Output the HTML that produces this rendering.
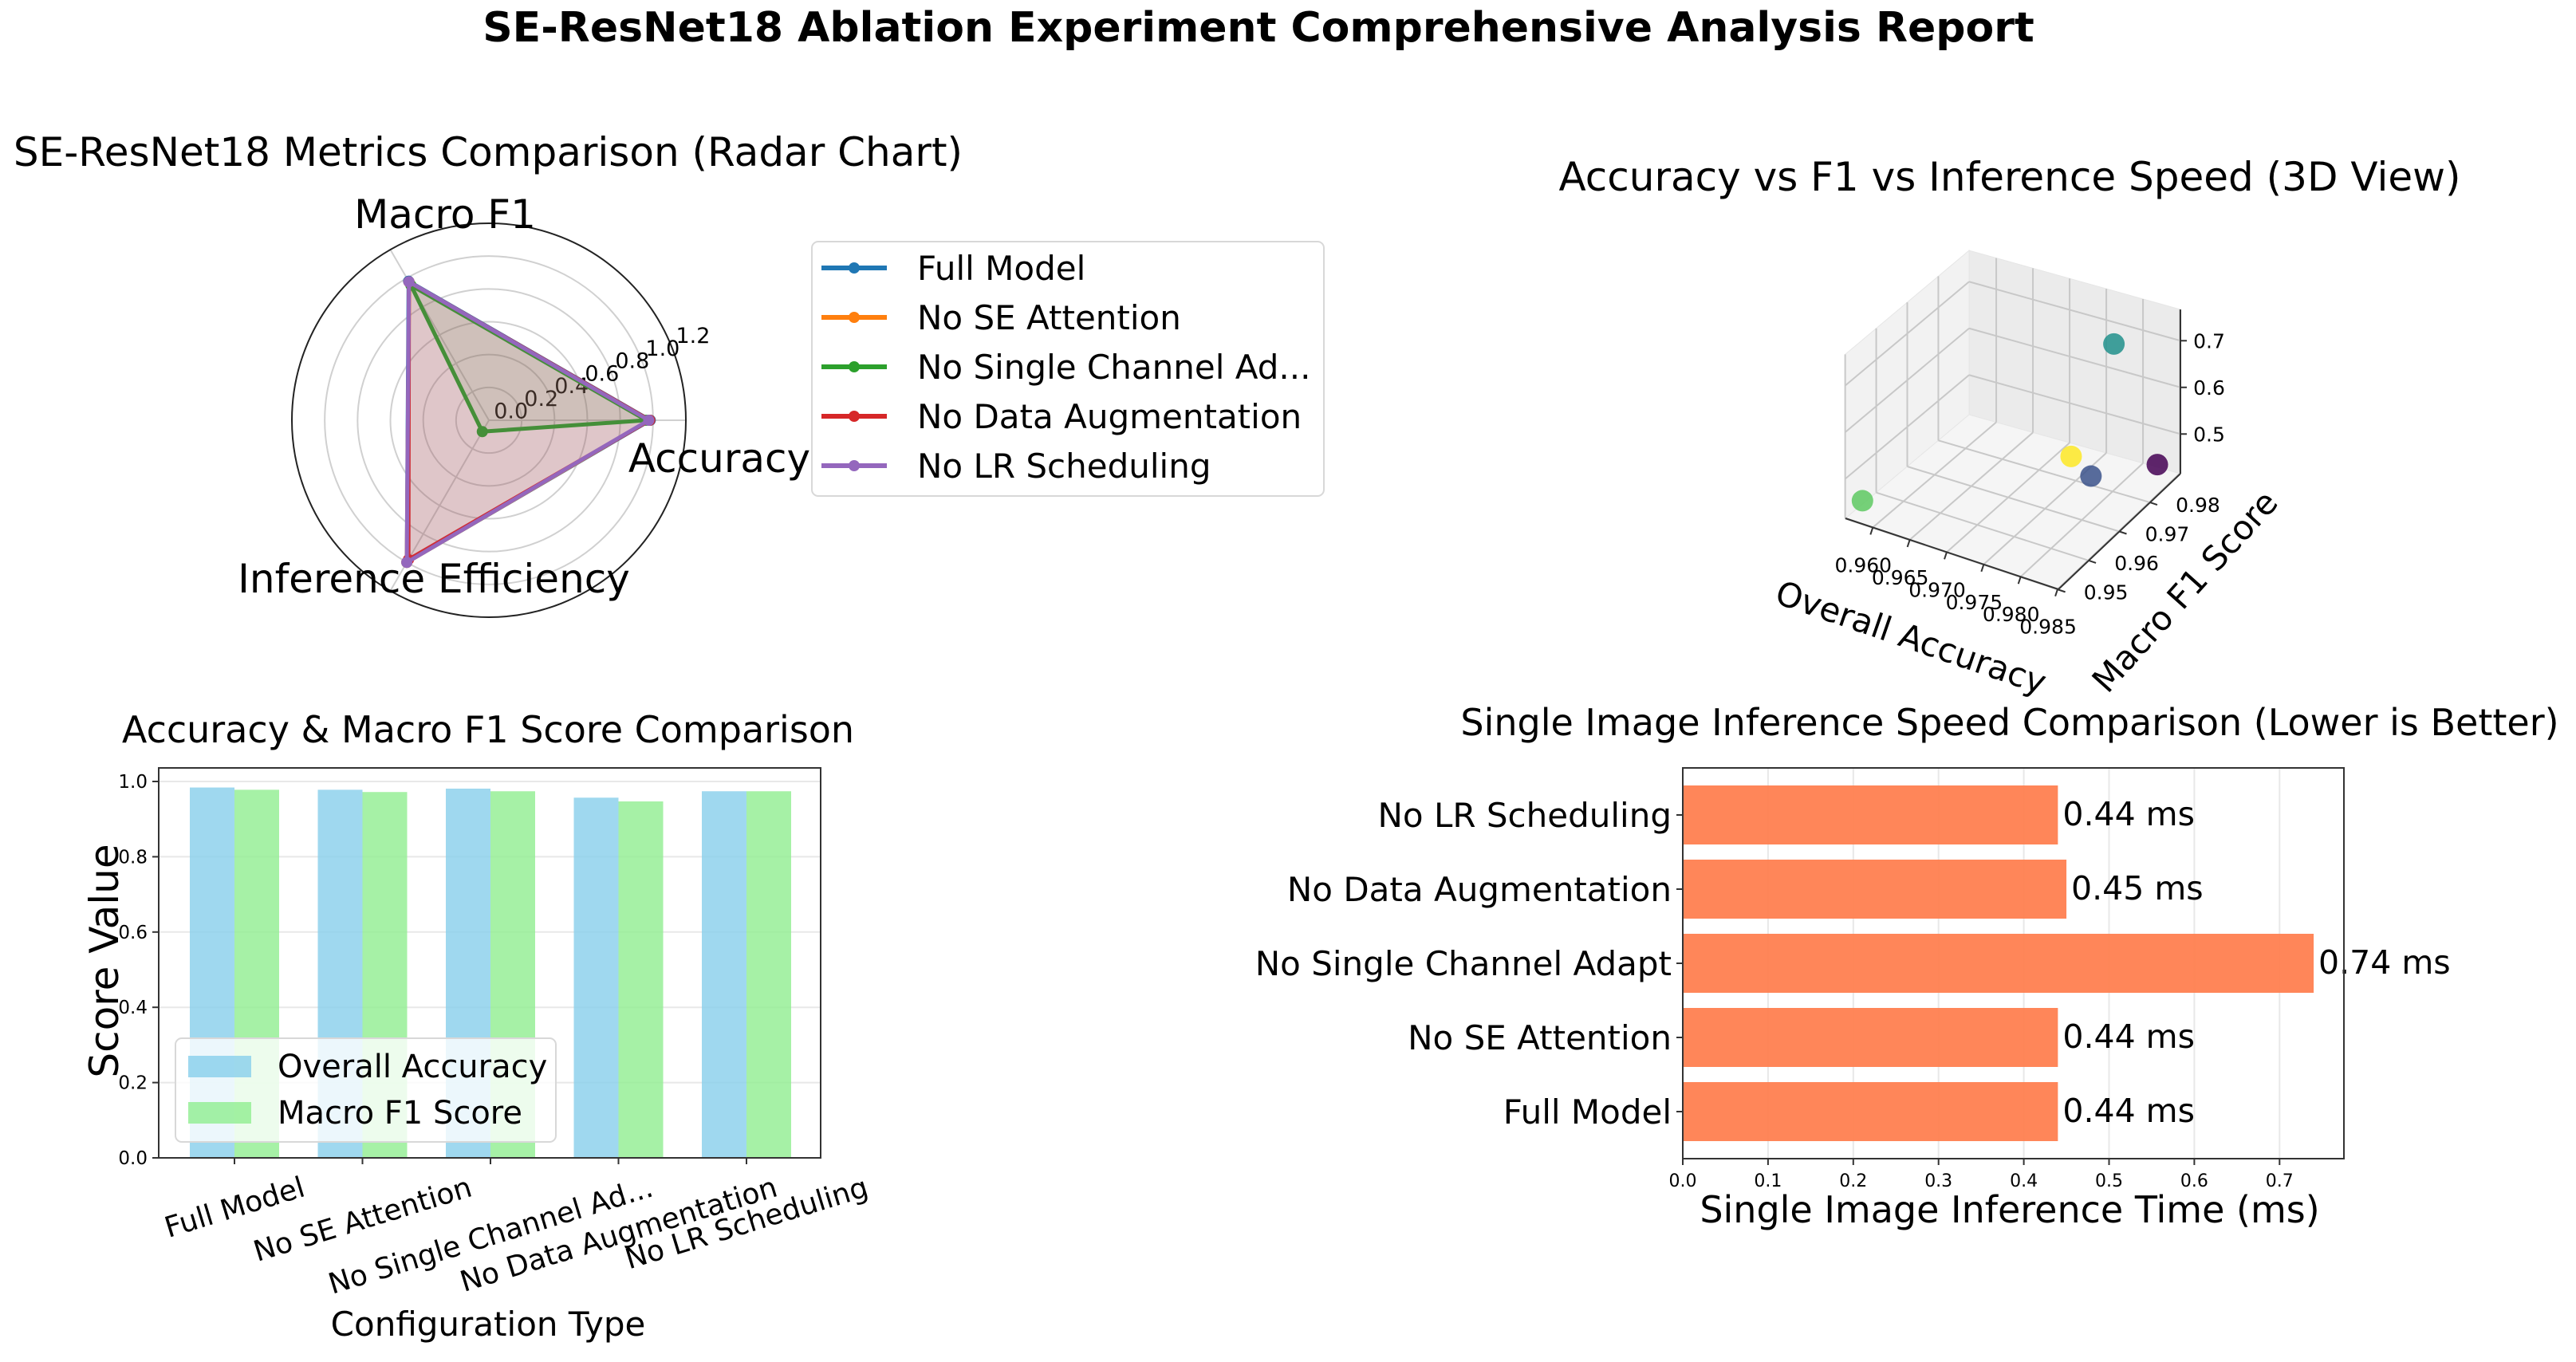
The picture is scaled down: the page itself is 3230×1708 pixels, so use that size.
<!DOCTYPE html>
<html><head><meta charset="utf-8">
<style>
html,body{margin:0;padding:0;background:#fff;}
svg{display:block;font-family:"DejaVu Sans","Liberation Sans",sans-serif;}
</style></head>
<body>
<svg id="fig" width="3230" height="1708" viewBox="0 0 3230 1708" xmlns="http://www.w3.org/2000/svg">
<rect width="3230" height="1708" fill="#fff"/>
<text x="1578" y="52" text-anchor="middle" font-size="52" font-weight="bold">SE-ResNet18 Ablation Experiment Comprehensive Analysis Report</text>
<text x="612" y="208" text-anchor="middle" font-size="50">SE-ResNet18 Metrics Comparison (Radar Chart)</text>
<text x="2520" y="239" text-anchor="middle" font-size="50">Accuracy vs F1 vs Inference Speed (3D View)</text>
<text x="612" y="931" text-anchor="middle" font-size="46">Accuracy &amp; Macro F1 Score Comparison</text>
<text x="2520" y="922" text-anchor="middle" font-size="46">Single Image Inference Speed Comparison (Lower is Better)</text>
<g id="radar"></g>
<g id="s3d"></g>
<g id="bars"></g>
<g id="hbars"></g>
</svg>
<script>
// ---------- Radar data ----------
const radarMetrics = ["Accuracy", "Macro F1", "Inference Efficiency"];
const radarSeriesNames = ["Full Model", "No SE Attention", "No Single Channel Ad...", "No Data Augmentation", "No LR Scheduling"];
const radarFull = [0.983, 0.978, 1.0];
const radarNoSE = [0.978, 0.972, 1.0];
const radarNoSingle = [0.96, 0.95, 0.08];
const radarNoData = [0.98, 0.974, 0.98];
const radarNoLR = [0.974, 0.974, 1.0];
const radarTicks = [0.0, 0.2, 0.4, 0.6, 0.8, 1.0, 1.2];
// ---------- 3D scatter data ----------
const s3dAcc = [0.984, 0.9784, 0.9806, 0.9752, 0.9578];
const s3dF1 = [0.985, 0.9768, 0.979, 0.978, 0.952];
const s3dTime = [0.46, 0.46, 0.74, 0.48, 0.45];
const s3dColors = ["#440154", "#3b528b", "#21918c", "#fde725", "#5ec962"];
const s3dAccTicks = ["0.960", "0.965", "0.970", "0.975", "0.980", "0.985"];
const s3dF1Ticks = ["0.95", "0.96", "0.97", "0.98"];
const s3dZTicks = ["0.5", "0.6", "0.7"];
// ---------- Bar chart data ----------
const barCategories = ["Full Model", "No SE Attention", "No Single Channel Ad...", "No Data Augmentation", "No LR Scheduling"];
const barAccuracy = [0.984, 0.978, 0.981, 0.957, 0.974];
const barF1 = [0.978, 0.972, 0.974, 0.947, 0.974];
const barYTicks = ["0.0", "0.2", "0.4", "0.6", "0.8", "1.0"];
// ---------- Horizontal bar data ----------
const speedCategories = ["Full Model", "No SE Attention", "No Single Channel Adapt", "No Data Augmentation", "No LR Scheduling"];
const speedTimes = [0.44, 0.44, 0.74, 0.45, 0.44];
const speedXTicks = ["0.0", "0.1", "0.2", "0.3", "0.4", "0.5", "0.6", "0.7"];

const NS = "http://www.w3.org/2000/svg";
function mk(tag, attrs, parent) {
  const e = document.createElementNS(NS, tag);
  for (const k in attrs) e.setAttribute(k, attrs[k]);
  parent.appendChild(e);
  return e;
}

// ================= RADAR =================
(function () {
  const g = document.getElementById('radar');
  const cx = 613, cy = 527, R = 247, rmax = 1.2;
  const rad = v => v / rmax * R;
  const ang = i => i * 2 * Math.PI / radarMetrics.length;
  const pt = (v, i) => [cx + rad(v) * Math.cos(ang(i)), cy - rad(v) * Math.sin(ang(i))];
  radarTicks.forEach(t => {
    if (t <= 0 || t >= rmax) return;
    const c = mk('circle', { cx: cx, cy: cy, r: rad(t), fill: 'none', stroke: '#d0d0d0', 'stroke-width': 2 }, g);
    
    
  });
  radarMetrics.forEach((m, i) => {
    const p = pt(rmax, i);
    const l = mk('line', { x1: cx, y1: cy, x2: p[0], y2: p[1], stroke: '#d0d0d0', 'stroke-width': 2 }, g);
    
    
  });
  const outer = mk('circle', { cx: cx, cy: cy, r: R, fill: 'none', stroke: '#222', 'stroke-width': 2 }, g);
  
  
  const la = 22.5 * Math.PI / 180;
  radarTicks.forEach(t => {
    const r = rad(t) + 30;
    const tx = mk('text', { x: cx + r * Math.cos(la), y: cy - r * Math.sin(la) + 9, 'text-anchor': 'middle', 'font-size': 27 }, g);
    tx.textContent = t.toFixed(1);
    
    
  });
  const labelPos = [[902, 592, 'middle'], [558, 286, 'middle'], [544, 743, 'middle']];
  radarMetrics.forEach((m, i) => {
    const tx = mk('text', { x: labelPos[i][0], y: labelPos[i][1], 'text-anchor': labelPos[i][2], 'font-size': 50 }, g);
    tx.textContent = m;
    
    
  });
  const series = [radarFull, radarNoSE, radarNoSingle, radarNoData, radarNoLR];
  const colors = ['#1f77b4', '#ff7f0e', '#2ca02c', '#d62728', '#9467bd'];
  series.forEach((s, k) => {
    const pts = s.map((v, i) => pt(v, i));
    const ps = pts.map(p => p.join(',')).join(' ');
    const poly = mk('polygon', { points: ps, fill: colors[k], 'fill-opacity': 0.1, stroke: colors[k], 'stroke-width': 5, 'stroke-linejoin': 'round' }, g);
    
    
    pts.forEach(p => {
      const c = mk('circle', { cx: p[0], cy: p[1], r: 7, fill: colors[k] }, g);
      
      
    });
  });
  const lg = mk('g', {}, g);
  
  
  mk('rect', { x: 1018, y: 303, width: 642, height: 319, rx: 8, fill: '#fff', stroke: '#d8d8d8', 'stroke-width': 2 }, lg);
  radarSeriesNames.forEach((n, k) => {
    const y = 336 + k * 62;
    mk('line', { x1: 1030, y1: y, x2: 1112, y2: y, stroke: colors[k], 'stroke-width': 6 }, lg);
    mk('circle', { cx: 1071, cy: y, r: 7, fill: colors[k] }, lg);
    const t = mk('text', { x: 1150, y: y + 15, 'font-size': 42 }, lg);
    t.textContent = n;
    
    
  });
})();

// ================= 3D SCATTER =================
(function () {
  const g = document.getElementById('s3d');
  const P00 = [2314, 650], P10 = [2581, 739], P01 = [2469, 520], P11 = [2734, 594];
  const accMin = 0.9563, accMax = 0.9851, f1Min = 0.9501, f1Max = 0.9899, zMin = 0.415, zMax = 0.767, zScale = 585;
  function proj(a, f, z) {
    const u = (a - accMin) / (accMax - accMin), v = (f - f1Min) / (f1Max - f1Min);
    const x = P00[0] * (1 - u) * (1 - v) + P10[0] * u * (1 - v) + P01[0] * (1 - u) * v + P11[0] * u * v;
    const y = P00[1] * (1 - u) * (1 - v) + P10[1] * u * (1 - v) + P01[1] * (1 - u) * v + P11[1] * u * v;
    return [x, y - (z - zMin) * zScale];
  }
  const poly = (pts, fill, name) => {
    const p = mk('polygon', { points: pts.map(q => q.join(',')).join(' '), fill: fill, stroke: '#e6e6e6', 'stroke-width': 1 }, g);
    
    
  };
  poly([proj(accMin, f1Min, zMax), proj(accMin, f1Max, zMax), proj(accMin, f1Max, zMin), proj(accMin, f1Min, zMin)], '#f2f2f2', 'left-pane');
  poly([proj(accMin, f1Max, zMax), proj(accMax, f1Max, zMax), proj(accMax, f1Max, zMin), proj(accMin, f1Max, zMin)], '#ebebeb', 'back-pane');
  poly([proj(accMin, f1Min, zMin), proj(accMin, f1Max, zMin), proj(accMax, f1Max, zMin), proj(accMax, f1Min, zMin)], '#f5f5f5', 'floor-pane');
  const gl = (a, b, name) => {
    const l = mk('line', { x1: a[0], y1: a[1], x2: b[0], y2: b[1], stroke: '#c8c8c8', 'stroke-width': 2 }, g);
    
    
  };
  s3dAccTicks.forEach(t => {
    const a = parseFloat(t);
    gl(proj(a, f1Min, zMin), proj(a, f1Max, zMin), 'floor-grid');
    gl(proj(a, f1Max, zMin), proj(a, f1Max, zMax), 'back-grid');
  });
  s3dF1Ticks.forEach(t => {
    const f = parseFloat(t);
    gl(proj(accMin, f, zMin), proj(accMax, f, zMin), 'floor-grid');
    gl(proj(accMin, f, zMin), proj(accMin, f, zMax), 'left-grid');
  });
  s3dZTicks.forEach(t => {
    const z = parseFloat(t);
    gl(proj(accMin, f1Min, z), proj(accMin, f1Max, z), 'left-grid');
    gl(proj(accMin, f1Max, z), proj(accMax, f1Max, z), 'back-grid');
  });
  const ax = (a, b, name) => {
    const l = mk('line', { x1: a[0], y1: a[1], x2: b[0], y2: b[1], stroke: '#333', 'stroke-width': 2 }, g);
    
    
  };
  ax(proj(accMin, f1Min, zMin), proj(accMax, f1Min, zMin), 'x-axis');
  ax(proj(accMax, f1Min, zMin), proj(accMax, f1Max, zMin), 'y-axis');
  ax(proj(accMax, f1Max, zMin), proj(accMax, f1Max, zMax), 'z-axis');
  s3dAccTicks.forEach(t => {
    const p = proj(parseFloat(t), f1Min, zMin);
    mk('line', { x1: p[0], y1: p[1], x2: p[0] - 3, y2: p[1] + 9, stroke: '#333', 'stroke-width': 2 }, g);
    const tx = mk('text', { x: p[0] - 12, y: p[1] + 56, 'text-anchor': 'middle', 'font-size': 25 }, g);
    tx.textContent = t;
    
    
  });
  s3dF1Ticks.forEach(t => {
    const p = proj(accMax, parseFloat(t), zMin);
    mk('line', { x1: p[0], y1: p[1], x2: p[0] + 9, y2: p[1] + 3, stroke: '#333', 'stroke-width': 2 }, g);
    const tx = mk('text', { x: p[0] + 60, y: p[1] + 12, 'text-anchor': 'middle', 'font-size': 25 }, g);
    tx.textContent = t;
    
    
  });
  s3dZTicks.forEach(t => {
    const z = parseFloat(t);
    const p = proj(accMax, f1Max, z);
    mk('line', { x1: p[0], y1: p[1], x2: p[0] + 8, y2: p[1], stroke: '#333', 'stroke-width': 2 }, g);
    const tx = mk('text', { x: p[0] + 36, y: p[1] + 9, 'text-anchor': 'middle', 'font-size': 25 }, g);
    tx.textContent = t;
    
    
  });
  s3dAcc.forEach((a, i) => {
    const p = proj(a, s3dF1[i], s3dTime[i]);
    const c = mk('circle', { cx: p[0], cy: p[1], r: 13.5, fill: s3dColors[i], 'fill-opacity': 0.85 }, g);
    
    
  });
  const xl = mk('text', { x: 2396, y: 814, 'text-anchor': 'middle', 'font-size': 42, transform: 'rotate(19 2396 800)' }, g);
  xl.textContent = 'Overall Accuracy';
  
  
  const yl = mk('text', { x: 2740, y: 756, 'text-anchor': 'middle', 'font-size': 42, transform: 'rotate(-48 2740 742)' }, g);
  yl.textContent = 'Macro F1 Score';
  
  
})();

// ================= BAR CHART =================
(function () {
  const g = document.getElementById('bars');
  const L = 199, Rr = 1029, T = 963, B = 1452;
  const pxPerUnit = 472;
  const xs = i => 294 + i * 160.5;
  const ys = v => B - v * pxPerUnit;
  const bw = 56;
  barYTicks.forEach(t => {
    const v = parseFloat(t), y = ys(v);
    const gl = mk('line', { x1: L, y1: y, x2: Rr, y2: y, stroke: '#e8e8e8', 'stroke-width': 2 }, g);
    
    
    mk('line', { x1: L - 8, y1: y, x2: L, y2: y, stroke: '#333', 'stroke-width': 2 }, g);
    const tx = mk('text', { x: L - 14, y: y + 8, 'text-anchor': 'end', 'font-size': 23 }, g);
    tx.textContent = t;
    
    
  });
  const rot = 17, th = rot * Math.PI / 180, fs = 36, hh = fs * 1.0;
  barCategories.forEach((c, i) => {
    const x = xs(i);
    const b1 = mk('rect', { x: x - bw, y: ys(barAccuracy[i]), width: bw, height: B - ys(barAccuracy[i]), fill: '#87ceeb', 'fill-opacity': 0.8 }, g);
    
    
    const b2 = mk('rect', { x: x, y: ys(barF1[i]), width: bw, height: B - ys(barF1[i]), fill: '#90ee90', 'fill-opacity': 0.8 }, g);
    
    
    mk('line', { x1: x, y1: B, x2: x, y2: B + 8, stroke: '#333', 'stroke-width': 2 }, g);
    const tx = mk('text', { x: x, y: 0, 'text-anchor': 'middle', 'font-size': fs }, g);
    tx.textContent = c;
    
    
    const w = tx.getComputedTextLength();
    const bboxH = w * Math.sin(th) + hh * Math.cos(th);
    const cyc = B + 18 + bboxH / 2;
    tx.setAttribute('y', cyc + fs * 0.35);
    tx.setAttribute('transform', 'rotate(-' + rot + ' ' + x + ' ' + cyc + ')');
  });
  const fr = mk('rect', { x: L, y: T, width: Rr - L, height: B - T, fill: 'none', stroke: '#333', 'stroke-width': 2 }, g);
  
  
  const yl = mk('text', { x: 130, y: 1223, 'text-anchor': 'middle', 'font-size': 50, transform: 'rotate(-90 130 1205)' }, g);
  yl.textContent = 'Score Value';
  
  
  const xl = mk('text', { x: 612, y: 1675, 'text-anchor': 'middle', 'font-size': 42 }, g);
  xl.textContent = 'Configuration Type';
  
  
  const lg = mk('g', {}, g);
  
  
  mk('rect', { x: 220, y: 1302, width: 477, height: 130, rx: 8, fill: '#fff', 'fill-opacity': 0.8, stroke: '#d8d8d8', 'stroke-width': 2 }, lg);
  mk('rect', { x: 236, y: 1324, width: 79, height: 27, fill: '#87ceeb', 'fill-opacity': 0.8 }, lg);
  mk('rect', { x: 236, y: 1382, width: 79, height: 27, fill: '#90ee90', 'fill-opacity': 0.8 }, lg);
  const t1 = mk('text', { x: 348, y: 1351, 'font-size': 40 }, lg);
  t1.textContent = 'Overall Accuracy';
  
  
  const t2 = mk('text', { x: 348, y: 1409, 'font-size': 40 }, lg);
  t2.textContent = 'Macro F1 Score';
  
  
})();

// ================= HORIZONTAL BARS =================
(function () {
  const g = document.getElementById('hbars');
  const L = 2110, Rr = 2939, T = 963, B = 1453;
  const xs = v => L + v * 1069;
  const yc = i => 1394 - i * 93;
  const bh = 74;
  speedXTicks.forEach(t => {
    const x = xs(parseFloat(t));
    const gl = mk('line', { x1: x, y1: T, x2: x, y2: B, stroke: '#e8e8e8', 'stroke-width': 2 }, g);
    
    
    mk('line', { x1: x, y1: B, x2: x, y2: B + 8, stroke: '#333', 'stroke-width': 2 }, g);
    const tx = mk('text', { x: x, y: B + 35, 'text-anchor': 'middle', 'font-size': 22 }, g);
    tx.textContent = t;
    
    
  });
  speedCategories.forEach((c, i) => {
    const y = yc(i);
    const r = mk('rect', { x: L, y: y - bh / 2, width: xs(speedTimes[i]) - L, height: bh, fill: '#ff7f50', 'fill-opacity': 0.95 }, g);
    
    
    mk('line', { x1: L - 8, y1: y, x2: L, y2: y, stroke: '#333', 'stroke-width': 2 }, g);
    const tx = mk('text', { x: L - 14, y: y + 15, 'text-anchor': 'end', 'font-size': 42 }, g);
    tx.textContent = c;
    
    
    const vl = mk('text', { x: xs(speedTimes[i]) + 6, y: y + 13, 'font-size': 41 }, g);
    vl.textContent = speedTimes[i].toFixed(2) + ' ms';
    
    
  });
  const fr = mk('rect', { x: L, y: T, width: Rr - L, height: B - T, fill: 'none', stroke: '#333', 'stroke-width': 2 }, g);
  
  
  const xl = mk('text', { x: 2520, y: 1533, 'text-anchor': 'middle', 'font-size': 46 }, g);
  xl.textContent = 'Single Image Inference Time (ms)';
  
  
})();
</script>
</body></html>
